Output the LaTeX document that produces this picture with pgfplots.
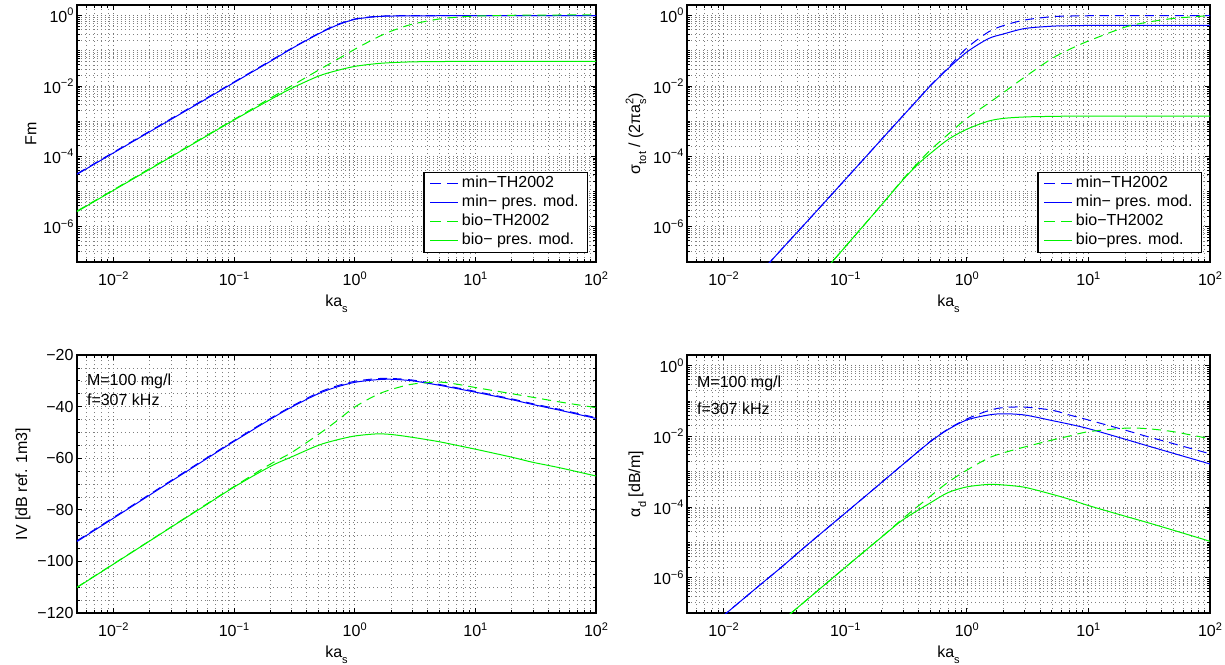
\documentclass[border=0pt]{standalone}
\usepackage{fontspec}
\setmainfont{Liberation Sans}
\usepackage{pgfplots}
\usepackage{pgfplotstable}
\pgfplotsset{compat=1.18}

\definecolor{mb}{rgb}{0,0,1}
\definecolor{mg}{rgb}{0,0.95,0}
\newcommand\sups[1]{\raisebox{0.42em}{\fontsize{11}{12}\selectfont #1}}
\newcommand\subs[1]{\raisebox{-0.38em}{\fontsize{11}{12}\selectfont #1}}

% Fm
\pgfplotstableread{
x      mt       mp       bt       bp
0.005  3.2e-5   3.1e-5   2.8e-6   2.7e-6
0.01   1.3e-4   1.25e-4  1.12e-5  1.08e-5
0.02   5.2e-4   5.0e-4   4.5e-5   4.3e-5
0.03   1.17e-3  1.12e-3  1.0e-4   9.7e-5
0.05   3.25e-3  3.1e-3   2.8e-4   2.7e-4
0.1    0.013    0.0125   1.12e-3  1.08e-3
0.2    0.052    0.050    4.5e-3   4.1e-3
0.3    0.118    0.115    0.0101   8.6e-3
0.5    0.31     0.30     0.028    0.019
0.7    0.54     0.52     0.054    0.027
1      0.80     0.78     0.11     0.036
1.5    0.95     0.93     0.23     0.043
2      0.98     0.97     0.36     0.046
3      1.0      0.985    0.57     0.0485
5      1.0      0.99     0.80     0.0495
7      1.0      0.99     0.90     0.0498
10     1.0      0.99     0.97     0.05
20     1.0      0.99     1.02     0.05
30     1.0      0.99     1.03     0.05
50     1.0      0.99     1.04     0.05
100    1.0      0.99     1.05     0.05
}\tabA

% sigma_tot
\pgfplotstableread{
x      mt       mp       bt       bp
0.005  2.5e-10  2.5e-10  1.7e-12  1.7e-12
0.01   3.5e-9   3.5e-9   2.7e-11  2.7e-11
0.02   4.9e-8   4.9e-8   4.3e-10  4.3e-10
0.03   2.3e-7   2.3e-7   2.2e-9   2.2e-9
0.05   1.58e-6  1.58e-6  1.7e-8   1.7e-8
0.1    2.2e-5   2.2e-5   2.7e-7   2.7e-7
0.2    3.1e-4   3.1e-4   4.3e-6   4.3e-6
0.3    1.45e-3  1.45e-3  2.3e-5   2.2e-5
0.4    4.3e-3   4.3e-3   6.8e-5   6.2e-5
0.5    0.0102   0.0100   1.5e-4   1.2e-4
0.7    0.033    0.031    4.2e-4   3.0e-4
1      0.12     0.092    1.2e-3   5.9e-4
1.5    0.34     0.22     3.2e-3   1.0e-3
2      0.52     0.30     6.5e-3   1.2e-3
3      0.75     0.43     0.018    1.32e-3
5      0.93     0.50     0.060    1.37e-3
7      0.97     0.515    0.11     1.39e-3
10     0.99     0.525    0.19     1.4e-3
20     1.0      0.53     0.47     1.4e-3
30     1.0      0.53     0.64     1.4e-3
50     1.0      0.53     0.83     1.4e-3
100    1.0      0.53     1.0      1.4e-3
}\tabB

% IV
\pgfplotstableread{
x      mt       mp       bt       bp
0.005  -92.0    -92.3    -110.0   -110.1
0.01   -83.0    -83.3    -101.0   -101.1
0.02   -74.0    -74.3    -92.0    -92.1
0.03   -68.7    -69.0    -86.7    -86.8
0.05   -62.1    -62.4    -80.0    -80.2
0.1    -53.2    -53.5    -71.0    -71.2
0.2    -44.6    -44.9    -62.3    -63.2
0.3    -39.9    -40.2    -57.8    -59.5
0.5    -34.6    -35.0    -50.8    -55.0
0.7    -32.1    -32.5    -45.8    -53.0
1      -30.2    -30.6    -40.2    -51.4
1.5    -29.2    -29.6    -35.6    -50.6
2      -29.1    -29.4    -33.4    -50.8
3      -29.7    -30.0    -31.3    -51.9
5      -31.4    -31.7    -30.5    -53.6
7      -32.7    -33.0    -31.3    -55.0
10     -34.1    -34.4    -32.6    -56.5
20     -37.0    -37.3    -35.0    -59.6
30     -38.9    -39.2    -36.4    -61.6
50     -41.1    -41.4    -38.2    -63.7
100    -44.3    -44.6    -40.4    -66.9
}\tabC

% alpha_d
\pgfplotstableread{
x      mt       mp       bt       bp
0.005  1.1e-8   1.1e-8   3.2e-10  3.2e-10
0.01   8.5e-8   8.5e-8   2.4e-9   2.4e-9
0.02   6.3e-7   6.3e-7   1.8e-8   1.8e-8
0.03   2.0e-6   2.0e-6   5.9e-8   5.9e-8
0.05   9.1e-6   9.1e-6   2.6e-7   2.6e-7
0.1    6.7e-5   6.7e-5   1.95e-6  1.95e-6
0.2    5.0e-4   5.0e-4   1.44e-5  1.42e-5
0.3    1.63e-3  1.63e-3  4.8e-5   4.4e-5
0.5    7.1e-3   7.0e-3   2.0e-4   1.3e-4
0.7    0.016    0.0155   5.0e-4   2.55e-4
1      0.031    0.029    1.1e-3   3.7e-4
1.5    0.053    0.040    2.4e-3   4.35e-4
2      0.065    0.0435   3.4e-3   4.2e-4
3      0.067    0.040    5.0e-3   3.6e-4
5      0.055    0.028    7.8e-3   2.3e-4
7      0.040    0.022    0.0102   1.65e-4
10     0.029    0.0165   0.0135   1.1e-4
20     0.015    8.3e-3   0.017    5.5e-5
30     0.010    5.5e-3   0.0165   3.7e-5
50     6.2e-3   3.3e-3   0.0135   2.2e-5
100    3.2e-3   1.65e-3  8.5e-3   1.07e-5
}\tabD

\tikzset{
  ldash/.style={line width=1pt, dash pattern=on 9pt off 6pt},
  lsolid/.style={line width=1pt},
}
\pgfplotsset{
  every axis/.append style={
    scale only axis,
    xmin=0.005, xmax=100,
    xtick={0.01,0.1,1,10,100},
    xticklabels={10\sups{−2},10\sups{−1},10\sups{0},10\sups{1},10\sups{2}},
    xticklabel style={yshift=-6pt},
    minor xtick={0.005,0.006,0.007,0.008,0.009,0.02,0.03,0.04,0.05,0.06,0.07,0.08,0.09,0.2,0.3,0.4,0.5,0.6,0.7,0.8,0.9,2,3,4,5,6,7,8,9,20,30,40,50,60,70,80,90},
    grid=both,
    major grid style={black!55, line width=0.6pt, dash pattern=on 0.6pt off 3.4pt},
    minor grid style={black!50, line width=0.6pt, dash pattern=on 0.6pt off 3.4pt},
    tick align=inside,
    major tick length=5pt, minor tick length=3pt,
    tick style={black, line width=0.7pt},
    axis line style={black, line width=1.2pt},
    xlabel={ka\subs{s}},
    xlabel style={yshift=-2pt},
    legend cell align=left,
    legend style={at={(0.985,0.035)}, anchor=south east, draw=black, line width=1.2pt,
      fill=white, inner xsep=6pt, inner ysep=2pt, row sep=0pt,
      nodes={inner xsep=3pt, inner ysep=1.5pt, text height=12pt, text depth=4pt}},
  },
}

\begin{document}
\begin{tikzpicture}[font=\fontsize{16}{19}\selectfont]
\useasboundingbox (0,0) rectangle (1225pt,664pt);

% top-left
\begin{loglogaxis}[at={(77pt,402pt)}, anchor=south west,
  width=519pt, height=257pt, ylabel={Fm},
  ymin=1e-7, ymax=2,
  ytick={1e-6,1e-4,1e-2,1},
  yticklabels={10\sups{−6},10\sups{−4},10\sups{−2},10\sups{0}},
  minor ytick={1e-7,2e-7,3e-7,4e-7,5e-7,6e-7,7e-7,8e-7,9e-7,2e-6,3e-6,4e-6,5e-6,6e-6,7e-6,8e-6,9e-6,1e-5,2e-5,3e-5,4e-5,5e-5,6e-5,7e-5,8e-5,9e-5,2e-4,3e-4,4e-4,5e-4,6e-4,7e-4,8e-4,9e-4,1e-3,2e-3,3e-3,4e-3,5e-3,6e-3,7e-3,8e-3,9e-3,0.02,0.03,0.04,0.05,0.06,0.07,0.08,0.09,0.1,0.2,0.3,0.4,0.5,0.6,0.7,0.8,0.9,2}]
\addplot[mb, ldash, smooth, forget plot] table[x=x, y=mt] {\tabA};
\addplot[mb, lsolid, smooth, forget plot] table[x=x, y=mp] {\tabA};
\addplot[mg, ldash, smooth, forget plot] table[x=x, y=bt] {\tabA};
\addplot[mg, lsolid, smooth, forget plot] table[x=x, y=bp] {\tabA};
\addlegendimage{legend image code/.code={\pgfsetstrokecolor{white}\pgfsetstrokecolor{mb}\draw[draw=mb, line width=1pt] (0pt,0pt) -- (11pt,0pt) (17pt,0pt) -- (28pt,0pt);}}
\addlegendentry{min−TH2002}
\addlegendimage{legend image code/.code={\pgfsetstrokecolor{white}\pgfsetstrokecolor{mb}\draw[draw=mb, line width=1pt] (0pt,0pt) -- (28pt,0pt);}}
\addlegendentry{min− pres. mod.}
\addlegendimage{legend image code/.code={\pgfsetstrokecolor{white}\pgfsetstrokecolor{mg}\draw[draw=mg, line width=1pt] (0pt,0pt) -- (11pt,0pt) (17pt,0pt) -- (28pt,0pt);}}
\addlegendentry{bio−TH2002}
\addlegendimage{legend image code/.code={\pgfsetstrokecolor{white}\pgfsetstrokecolor{mg}\draw[draw=mg, line width=1pt] (0pt,0pt) -- (28pt,0pt);}}
\addlegendentry{bio− pres. mod.}
\end{loglogaxis}

% top-right
\begin{loglogaxis}[at={(687pt,402pt)}, anchor=south west,
  width=523pt, height=257pt,
  ylabel={σ\subs{tot} / (2πa\rlap{\subs{s}}\sups{2})},
  ymin=1e-7, ymax=2,
  ytick={1e-6,1e-4,1e-2,1},
  yticklabels={10\sups{−6},10\sups{−4},10\sups{−2},10\sups{0}},
  minor ytick={1e-7,2e-7,3e-7,4e-7,5e-7,6e-7,7e-7,8e-7,9e-7,2e-6,3e-6,4e-6,5e-6,6e-6,7e-6,8e-6,9e-6,1e-5,2e-5,3e-5,4e-5,5e-5,6e-5,7e-5,8e-5,9e-5,2e-4,3e-4,4e-4,5e-4,6e-4,7e-4,8e-4,9e-4,1e-3,2e-3,3e-3,4e-3,5e-3,6e-3,7e-3,8e-3,9e-3,0.02,0.03,0.04,0.05,0.06,0.07,0.08,0.09,0.1,0.2,0.3,0.4,0.5,0.6,0.7,0.8,0.9,2}]
\addplot[mb, ldash, smooth, forget plot] table[x=x, y=mt] {\tabB};
\addplot[mb, lsolid, smooth, forget plot] table[x=x, y=mp] {\tabB};
\addplot[mg, ldash, smooth, forget plot] table[x=x, y=bt] {\tabB};
\addplot[mg, lsolid, smooth, forget plot] table[x=x, y=bp] {\tabB};
\addlegendimage{legend image code/.code={\pgfsetstrokecolor{white}\pgfsetstrokecolor{mb}\draw[draw=mb, line width=1pt] (0pt,0pt) -- (11pt,0pt) (17pt,0pt) -- (28pt,0pt);}}
\addlegendentry{min−TH2002}
\addlegendimage{legend image code/.code={\pgfsetstrokecolor{white}\pgfsetstrokecolor{mb}\draw[draw=mb, line width=1pt] (0pt,0pt) -- (28pt,0pt);}}
\addlegendentry{min− pres. mod.}
\addlegendimage{legend image code/.code={\pgfsetstrokecolor{white}\pgfsetstrokecolor{mg}\draw[draw=mg, line width=1pt] (0pt,0pt) -- (11pt,0pt) (17pt,0pt) -- (28pt,0pt);}}
\addlegendentry{bio−TH2002}
\addlegendimage{legend image code/.code={\pgfsetstrokecolor{white}\pgfsetstrokecolor{mg}\draw[draw=mg, line width=1pt] (0pt,0pt) -- (28pt,0pt);}}
\addlegendentry{bio−pres. mod.}
\end{loglogaxis}

% bottom-left
\begin{semilogxaxis}[at={(77pt,51pt)}, anchor=south west,
  width=519pt, height=258pt,
  ymin=-120, ymax=-20, ytick={-120,-100,-80,-60,-40,-20},
  yticklabels={−120,−100,−80,−60,−40,−20},
  minor ytick={-115,-110,-105,-95,-90,-85,-75,-70,-65,-55,-50,-45,-35,-30,-25},
  ylabel={IV [dB ref. 1m3]}]
\addplot[mb, ldash, smooth] table[x=x, y=mt] {\tabC};
\addplot[mb, lsolid, smooth] table[x=x, y=mp] {\tabC};
\addplot[mg, ldash, smooth] table[x=x, y=bt] {\tabC};
\addplot[mg, lsolid, smooth] table[x=x, y=bp] {\tabC};
\node[anchor=west, inner sep=0pt] at (rel axis cs:0.019,0.898) {M=100 mg/l};
\node[anchor=west, inner sep=0pt] at (rel axis cs:0.019,0.828) {f=307 kHz};
\end{semilogxaxis}

% bottom-right
\begin{loglogaxis}[at={(687pt,51pt)}, anchor=south west,
  width=523pt, height=258pt,
  ylabel={α\subs{d} [dB/m]},
  ymin=1e-7, ymax=2,
  ytick={1e-6,1e-4,1e-2,1},
  yticklabels={10\sups{−6},10\sups{−4},10\sups{−2},10\sups{0}},
  minor ytick={1e-7,2e-7,3e-7,4e-7,5e-7,6e-7,7e-7,8e-7,9e-7,2e-6,3e-6,4e-6,5e-6,6e-6,7e-6,8e-6,9e-6,1e-5,2e-5,3e-5,4e-5,5e-5,6e-5,7e-5,8e-5,9e-5,2e-4,3e-4,4e-4,5e-4,6e-4,7e-4,8e-4,9e-4,1e-3,2e-3,3e-3,4e-3,5e-3,6e-3,7e-3,8e-3,9e-3,0.02,0.03,0.04,0.05,0.06,0.07,0.08,0.09,0.1,0.2,0.3,0.4,0.5,0.6,0.7,0.8,0.9,2}]
\addplot[mb, ldash, smooth] table[x=x, y=mt] {\tabD};
\addplot[mb, lsolid, smooth] table[x=x, y=mp] {\tabD};
\addplot[mg, ldash, smooth] table[x=x, y=bt] {\tabD};
\addplot[mg, lsolid, smooth] table[x=x, y=bp] {\tabD};
\node[anchor=west, inner sep=0pt] at (rel axis cs:0.019,0.89) {M=100 mg/l};
\node[anchor=west, inner sep=0pt] at (rel axis cs:0.019,0.79) {f=307 kHz};
\end{loglogaxis}
\end{tikzpicture}
\end{document}
